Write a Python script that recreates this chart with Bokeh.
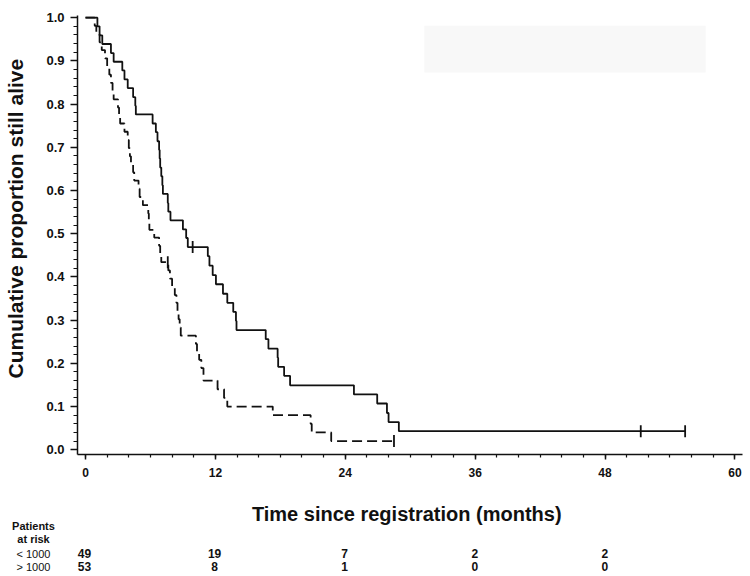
import math
from bokeh.plotting import figure
from bokeh.layouts import column
from bokeh.models import FixedTicker, BoxAnnotation, Range1d, CustomJSTickFormatter, Title
from bokeh.core.properties import value
from bokeh.embed import file_html
from bokeh.resources import INLINE

# ---- data ----
# group "< 1000": step times (months) and survival after each step
low_t = [0, 1.1, 1.3, 1.55, 2.35, 2.6, 3.4, 3.6, 3.9, 4.4, 4.6, 4.65,
         6.2, 6.5, 6.65, 6.8, 6.85, 6.9, 7.0, 7.1, 7.15, 7.6, 7.65, 7.85,
         9.0, 9.3, 9.45, 11.3, 11.45, 11.75, 12.05, 12.7, 13.1, 13.65, 13.9, 13.95,
         16.65, 16.9, 17.75, 17.8, 18.35, 18.9, 24.8, 26.95, 27.85, 28.0, 28.95, 55.4]
low_s = [1.0, 0.98, 0.959, 0.939, 0.918, 0.898, 0.878, 0.857, 0.837, 0.816, 0.796, 0.776,
         0.755, 0.735, 0.714, 0.694, 0.674, 0.653, 0.633, 0.612, 0.592, 0.571, 0.551, 0.531,
         0.51, 0.49, 0.469, 0.448, 0.426, 0.404, 0.383, 0.361, 0.34, 0.319, 0.298, 0.277,
         0.256, 0.234, 0.213, 0.192, 0.171, 0.149, 0.128, 0.107, 0.085, 0.064, 0.043, 0.043]
low_cens_t = [9.9, 51.3, 55.4]
low_cens_s = [0.469, 0.043, 0.043]

# group "> 1000"
high_t = [0, 0.85, 1.0, 1.3, 1.5, 1.8, 2.0, 2.2, 2.35, 2.5, 2.6, 3.0, 3.1, 3.2,
          3.6, 3.9, 4.0, 4.1, 4.2, 4.4, 4.5, 4.9, 5.0, 5.3, 5.8, 5.85, 5.9, 6.35,
          6.8, 6.9, 7.0, 7.65, 7.8, 8.0, 8.25, 8.4, 8.5, 8.6, 8.7, 8.8,
          10.2, 10.3, 10.5, 10.7, 10.9, 12.2, 12.8, 13.1, 17.3, 20.8, 20.9, 22.7, 28.5]
high_s = [1.0, 0.981, 0.962, 0.943, 0.925, 0.906, 0.887, 0.868, 0.849, 0.83, 0.811, 0.792, 0.774, 0.755,
          0.736, 0.717, 0.698, 0.679, 0.66, 0.642, 0.623, 0.604, 0.585, 0.566, 0.547, 0.528, 0.509, 0.491,
          0.472, 0.453, 0.434, 0.415, 0.396, 0.377, 0.358, 0.34, 0.321, 0.302, 0.283, 0.264,
          0.245, 0.226, 0.208, 0.189, 0.16, 0.14, 0.12, 0.10, 0.08, 0.06, 0.04, 0.02, 0.02]
high_cens_t = [7.6, 28.5]
high_cens_s = [0.434, 0.02]

x_ticks = [0, 12, 24, 36, 48, 60]
x_minor = list(range(0, 61, 2))
y_ticks = [0.0, 0.1, 0.2, 0.3, 0.4, 0.5, 0.6, 0.7, 0.8, 0.9, 1.0]
y_minor = [round(i * 0.02, 2) for i in range(51)]

x_title = "Time since registration  (months)"
y_title = "Cumulative  proportion  still  alive"

risk_header = ["Patients", "at risk"]
risk_groups = ["< 1000", "> 1000"]
risk_times = [0, 12, 24, 36, 48]
risk_low = [49, 19, 7, 2, 2]
risk_high = [53, 8, 1, 0, 0]

FONT = "Liberation Sans"
INK = "#111111"

# ---- layout constants (pixels) ----
W = 750
H_MAIN, H_TAB = 490, 86
B_LEFT, B_RIGHT, B_TOP = 76, 8, 15
B_BOTTOM = H_MAIN - 454
X0, X1 = -0.74, 60.7
Y0, Y1 = -0.011, 1.005

p = figure(width=W, height=H_MAIN, output_backend="svg", toolbar_location=None,
           x_range=Range1d(X0, X1), y_range=Range1d(Y0, Y1),
           min_border_left=B_LEFT, min_border_right=B_RIGHT,
           min_border_top=B_TOP, min_border_bottom=B_BOTTOM)
p.frame_align = False
p.outline_line_color = None
p.xgrid.visible = False
p.ygrid.visible = False
p.background_fill_color = "white"
p.border_fill_color = "white"

# faint remnant legend box
p.add_layout(BoxAnnotation(left=31.3, right=57.3, bottom=0.873, top=0.981,
                           fill_color="#f8f8f8", fill_alpha=1.0, line_color=None,
                           level="underlay"))

p.step(low_t, low_s, mode="after", line_color=INK, line_width=1.8)
p.step(high_t, high_s, mode="after", line_color=INK, line_width=1.8, line_dash="10 5")
p.scatter(low_cens_t, low_cens_s, marker="dash", angle=math.pi / 2, size=12,
          line_color=INK, line_width=1.8)
p.scatter(high_cens_t, high_cens_s, marker="dash", angle=math.pi / 2, size=12,
          line_color=INK, line_width=1.8)

for ax in (p.xaxis[0], p.yaxis[0]):
    ax.axis_line_color = INK
    ax.axis_line_width = 1.5
    ax.major_tick_line_color = INK
    ax.major_tick_line_width = 1.5
    ax.minor_tick_line_color = INK
    ax.minor_tick_line_width = 1.2
    ax.major_tick_in = 0
    ax.minor_tick_in = 0
    ax.major_label_text_font = FONT
    ax.major_label_text_font_style = "bold"
    ax.major_label_text_color = INK

xa = p.xaxis[0]
xa.ticker = FixedTicker(ticks=x_ticks, minor_ticks=x_minor)
xa.major_tick_out = 5
xa.minor_tick_out = 3
xa.major_label_text_font_size = "12px"
xa.major_label_standoff = 8

ya = p.yaxis[0]
ya.ticker = FixedTicker(ticks=y_ticks, minor_ticks=y_minor)
ya.formatter = CustomJSTickFormatter(code="return tick.toFixed(1);")
ya.major_tick_out = 7
ya.minor_tick_out = 4
ya.major_label_text_font_size = "13px"
ya.major_label_standoff = 6
# blank spacer label: widens the axis panel so the title sits further left
ya.axis_label = "\u00a0"
ya.axis_label_text_font_size = "9px"
ya.axis_label_standoff = 3

# vertical axis title, starting near the 0.2 level as in the reference
p.add_layout(Title(text=y_title, align="left", offset=76, standoff=2,
                   text_font=FONT, text_font_size="21px", text_font_style="bold",
                   text_color=INK), "left")

# ---- lower panel: x-axis title and numbers-at-risk table, same month scale ----
frame_w = W - B_LEFT - B_RIGHT
ppm = frame_w / (X1 - X0)              # pixels per month
tx0 = X0 - B_LEFT / ppm
tx1 = tx0 + W / ppm
q = figure(width=W, height=H_TAB, output_backend="svg", toolbar_location=None,
           x_range=Range1d(tx0, tx1), y_range=Range1d(H_TAB, 0),
           x_axis_location=None, y_axis_location=None,
           min_border_left=0, min_border_right=0, min_border_top=0, min_border_bottom=0)
q.frame_align = False
q.outline_line_color = None
q.xgrid.visible = False
q.ygrid.visible = False
q.background_fill_color = "white"
q.border_fill_color = "white"

head_x = tx0 + 33 / ppm
row_title = 23
rows_head = [35, 48]
rows_grp = [63, 76]

q.text(x=[(X0 + X1) / 2], y=[row_title], text=[x_title], text_font=value(FONT),
       text_font_style="bold", text_font_size="20px", text_color=INK,
       text_align="center", text_baseline="middle")
q.text(x=[head_x] * 2, y=rows_head, text=risk_header, text_font=value(FONT),
       text_font_style="bold", text_font_size="11px", text_color=INK,
       text_align="center", text_baseline="middle")
q.text(x=[head_x] * 2, y=rows_grp, text=risk_groups, text_font=value(FONT),
       text_font_size="11px", text_color=INK,
       text_align="center", text_baseline="middle")
for counts, ry in zip([risk_low, risk_high], rows_grp):
    q.text(x=risk_times, y=[ry] * len(risk_times), text=[str(n) for n in counts],
           text_font=value(FONT), text_font_style="bold", text_font_size="12px",
           text_color=INK, text_align="center", text_baseline="middle")

layout = column(p, q, spacing=0)
open("out.html", "w").write(file_html(layout, INLINE))
